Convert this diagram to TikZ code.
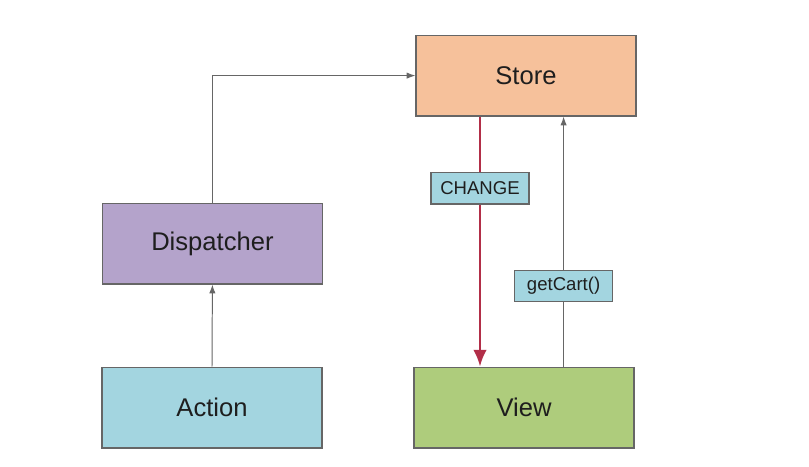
\documentclass[tikz,border=0pt]{standalone}
\usepackage{fontspec}
\setmainfont{Liberation Sans}
\usetikzlibrary{calc,arrows.meta}
\definecolor{storefill}{HTML}{F6C19B}
\definecolor{dispfill}{HTML}{B4A3CB}
\definecolor{actfill}{HTML}{A3D5E0}
\definecolor{viewfill}{HTML}{AECC7C}
\definecolor{edgegrey}{HTML}{666666}
\definecolor{changered}{HTML}{B22E48}
\definecolor{textgrey}{HTML}{1E1E1E}
\tikzset{
	box/.style={draw=edgegrey, line width=0.8pt, minimum width=5.5cm, minimum height=2.02cm, inner sep=0pt, text=textgrey, font=\fontsize{18.2}{21}\selectfont},
	tag/.style={draw=edgegrey, line width=0.8pt, fill=actfill, minimum width=2.45cm, minimum height=0.78cm, inner sep=0pt, text=textgrey, font=\fontsize{13.2}{15}\selectfont},
	flow/.style={draw=edgegrey, line width=0.7pt, -{Latex[length=2.2mm,width=1.6mm]}},
	plain/.style={draw=edgegrey, line width=0.7pt},
}

\begin{document}
\begin{tikzpicture}
			%%%%% START %%%%%
			\useasboundingbox[fill=white] (0, 0) rectangle (20.225, -11.65);
			
			\node[box, fill=storefill] (store) at (13.15, -1.89) {Store};
			\node[box, fill=dispfill] (dispatcher) at (5.31, -6.09) {Dispatcher};
			\node[box, fill=actfill] (action) at (5.3, -10.19) {Action};
			\node[box, fill=viewfill] (view) at (13.1, -10.19) {View};
			
			\node[tag] (change) at (12, -4.71) {CHANGE};
			\node[tag] (getcart) at (14.09, -7.15) {getCart()};
			
			\draw[flow] (action.north) -- (dispatcher.south);
			\draw[flow] (dispatcher.north) |- (store.west);
			
			\draw[line width=2pt, color=changered] (store.south -| change.center) -- (change.north);
			\draw[line width=2pt, color=changered, -{Latex[length=4.2mm,width=3.4mm]}] (change.south) -- (view.north -| change.center);
			
			\draw[plain] (view.north -| getcart.center) -- (getcart.south);
			\draw[flow] (getcart.north) -- (store.south -| getcart.center);
			%%%%% END %%%%%
\end{tikzpicture}
\end{document}
